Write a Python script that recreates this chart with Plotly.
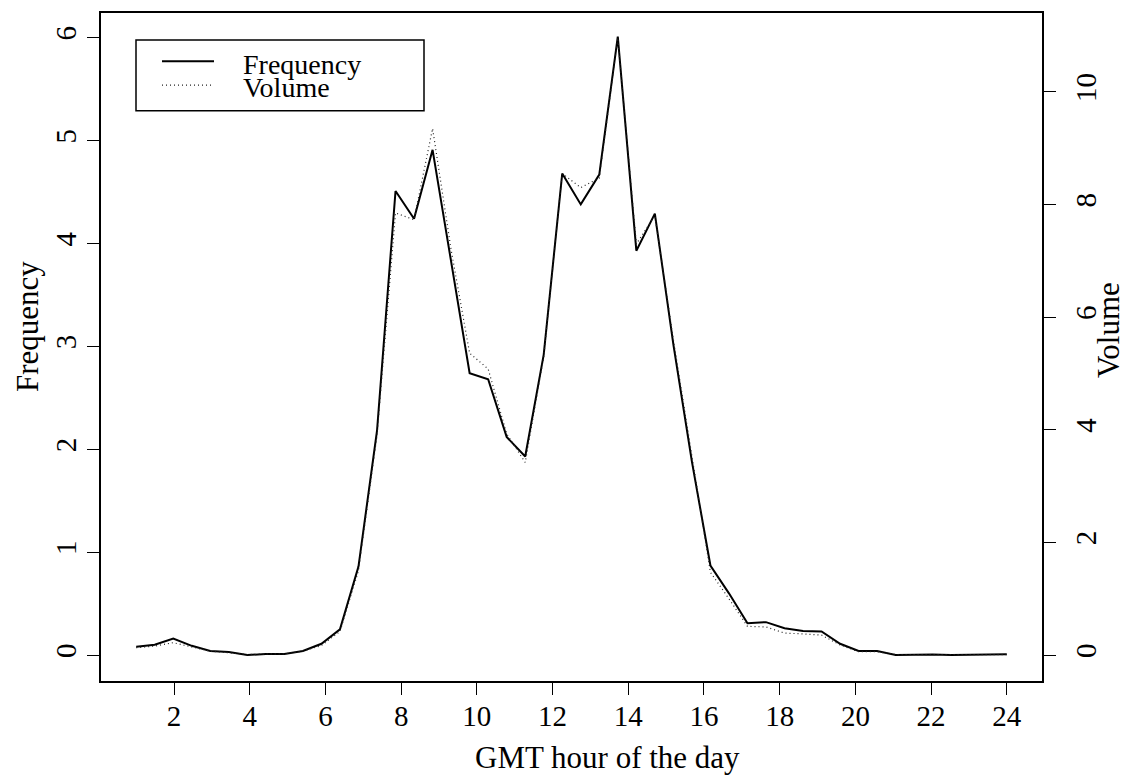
import plotly.graph_objects as go

# GMT hour of the day (48 points from 1 to 24)
hours = [1.000, 1.489, 1.979, 2.468, 2.957, 3.447, 3.936, 4.426, 4.915, 5.404,
         5.894, 6.383, 6.872, 7.362, 7.851, 8.340, 8.830, 9.319, 9.809, 10.298,
         10.787, 11.277, 11.766, 12.255, 12.745, 13.234, 13.723, 14.213, 14.702, 15.191,
         15.681, 16.170, 16.660, 17.149, 17.638, 18.128, 18.617, 19.106, 19.596, 20.085,
         20.574, 21.064, 21.553, 22.043, 22.532, 23.021, 23.511, 24.000]

frequency = [0.08, 0.10, 0.16, 0.09, 0.04, 0.03, 0.00, 0.01, 0.01, 0.04,
             0.11, 0.25, 0.86, 2.18, 4.51, 4.24, 4.91, 3.82, 2.74, 2.68,
             2.12, 1.93, 2.92, 4.68, 4.38, 4.67, 6.01, 3.93, 4.29, 3.02,
             1.88, 0.87, 0.60, 0.31, 0.32, 0.26, 0.235, 0.23, 0.11, 0.04,
             0.04, 0.00, 0.005, 0.005, 0.00, 0.00, 0.004, 0.007]

volume = [0.13, 0.16, 0.22, 0.14, 0.07, 0.04, 0.01, 0.02, 0.02, 0.07,
          0.17, 0.42, 1.50, 3.90, 7.85, 7.73, 9.35, 7.20, 5.36, 5.08,
          3.93, 3.42, 5.30, 8.55, 8.30, 8.47, 10.96, 7.30, 7.80, 5.60,
          3.50, 1.47, 1.00, 0.51, 0.50, 0.39, 0.377, 0.354, 0.18, 0.06,
          0.06, 0.01, 0.01, 0.01, 0.00, 0.00, 0.01, 0.01]

x_ticks = [2, 4, 6, 8, 10, 12, 14, 16, 18, 20, 22, 24]
freq_ticks = [0, 1, 2, 3, 4, 5, 6]
vol_ticks = [0, 2, 4, 6, 8, 10]

FONT = "Liberation Serif"
W, H = 1127, 779
L, R, T, B = 101, 85, 11, 98
PW, PH = W - L - R, H - T - B


def px(xp):
    return (xp - L) / PW


def py(yp):
    return (H - B - yp) / PH


fig = go.Figure()
fig.add_trace(go.Scatter(x=hours, y=frequency, mode="lines", name="Frequency",
                         line=dict(color="black", width=2), yaxis="y"))
fig.add_trace(go.Scatter(x=hours, y=volume, mode="lines", name="Volume",
                         line=dict(color="#222222", width=1.2, dash="1px,3px"), yaxis="y2"))

axis_common = dict(showgrid=False, zeroline=False, showline=True, linecolor="black",
                   linewidth=1.5, ticks="outside", ticklen=12, tickwidth=1.3,
                   tickcolor="black", tickfont=dict(family=FONT, size=29, color="black"))

fig.update_layout(
    width=W, height=H, autosize=False,
    margin=dict(l=L, r=R, t=T, b=B, pad=0),
    paper_bgcolor="white", plot_bgcolor="white",
    showlegend=False,
    xaxis=dict(range=[0.07, 24.93], tickvals=x_ticks, mirror=True,
               ticklabelstandoff=-4, **axis_common),
    yaxis=dict(range=[-0.252, 6.24], tickvals=freq_ticks, tickangle=-90,
               ticklabelstandoff=0, **axis_common),
    yaxis2=dict(range=[-0.46, 11.40], tickvals=vol_ticks, tickangle=-90,
                overlaying="y", side="right", ticklabelstandoff=5, **axis_common),
)

# axis titles
TITLE_SIZE = 31
fig.add_annotation(text="GMT hour of the day", xref="paper", yref="paper",
                   x=px(607), y=py(758), showarrow=False,
                   font=dict(family=FONT, size=TITLE_SIZE, color="black"),
                   xanchor="center", yanchor="middle")
fig.add_annotation(text="Frequency", xref="paper", yref="paper",
                   x=px(27), y=py(326), showarrow=False, textangle=-90,
                   font=dict(family=FONT, size=TITLE_SIZE, color="black"),
                   xanchor="center", yanchor="middle")
fig.add_annotation(text="Volume", xref="paper", yref="paper",
                   x=px(1108), y=py(329), showarrow=False, textangle=-90,
                   font=dict(family=FONT, size=TITLE_SIZE, color="black"),
                   xanchor="center", yanchor="middle")

# legend box drawn by hand
fig.add_shape(type="rect", xref="paper", yref="paper",
              x0=px(136), x1=px(424), y0=py(109), y1=py(38),
              line=dict(color="black", width=1.5), fillcolor="white", layer="above")
fig.add_shape(type="line", xref="paper", yref="paper",
              x0=px(162), x1=px(214), y0=py(59.5), y1=py(59.5),
              line=dict(color="black", width=2), layer="above")
fig.add_shape(type="line", xref="paper", yref="paper",
              x0=px(162), x1=px(211), y0=py(83.3), y1=py(83.3),
              line=dict(color="#222222", width=1.2, dash="1px,3px"), layer="above")
fig.add_annotation(text="Frequency", xref="paper", yref="paper",
                   x=px(241), y=py(62.5), showarrow=False,
                   font=dict(family=FONT, size=28, color="black"),
                   xanchor="left", yanchor="middle")
fig.add_annotation(text="Volume", xref="paper", yref="paper",
                   x=px(241), y=py(86), showarrow=False,
                   font=dict(family=FONT, size=28, color="black"),
                   xanchor="left", yanchor="middle")

fig.write_html("out.html")
